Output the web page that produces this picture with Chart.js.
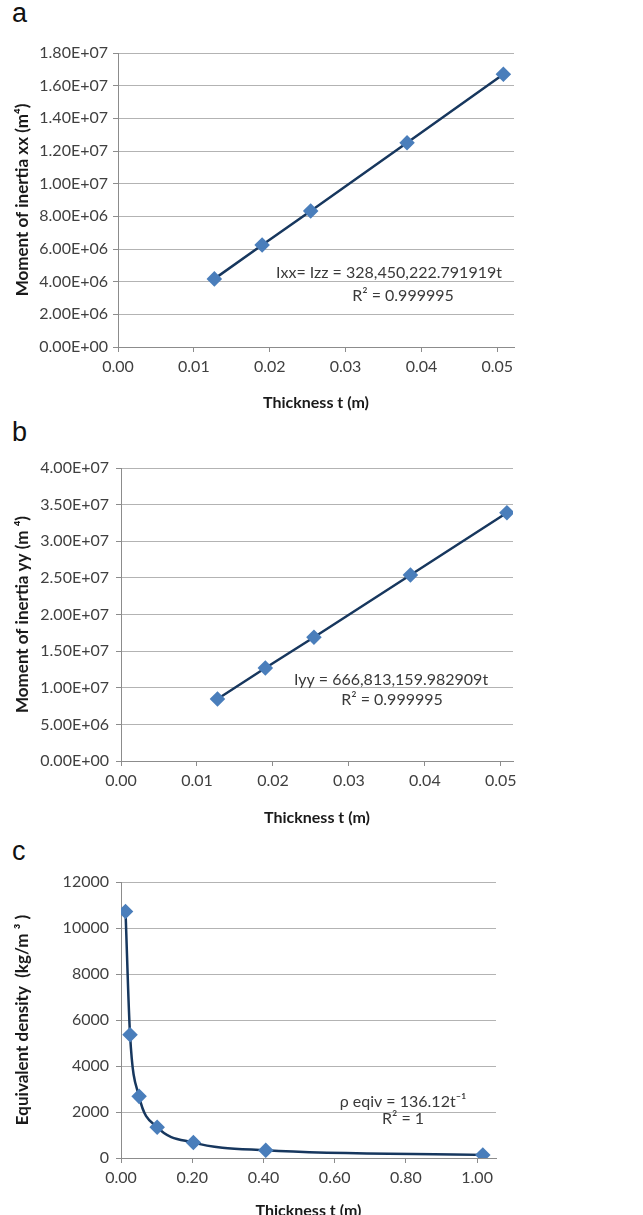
<!DOCTYPE html>
<html>
<head>
<meta charset="utf-8">
<script src="https://cdn.jsdelivr.net/npm/chart.js@4"></script>
<style>
  body { margin: 0; width: 643px; height: 1215px; overflow: hidden; background: #fff; position: relative; }
  canvas { position: absolute; left: 0; }
  .lbl { position: absolute; left: 12px; font-family: "Liberation Sans", Arial, sans-serif; font-size: 27px; color: #111; }
</style>
</head>
<body>
<div class="lbl" style="top:-2px">a</div>
<div class="lbl" style="top:417px">b</div>
<div class="lbl" style="top:836px">c</div>
<canvas id="chartA" width="643" height="420" style="top:0"></canvas>
<canvas id="chartB" width="643" height="420" style="top:420px"></canvas>
<canvas id="chartC" width="643" height="400" style="top:840px"></canvas>
<script>
// thickness (m) vs values
const thickAB = [0.0127, 0.019, 0.0254, 0.0381, 0.0508];
const inertiaXX = [4.17e6, 6.25e6, 8.33e6, 1.25e7, 1.67e7];
const inertiaYY = [8.47e6, 1.27e7, 1.69e7, 2.54e7, 3.39e7];

const thickC = [0.0127, 0.0254, 0.0508, 0.1016, 0.2032, 0.4064, 1.016];
const densityC = [10718, 5359, 2680, 1340, 670, 335, 134];

// tick labels
const xTicksAB = [0, 0.01, 0.02, 0.03, 0.04, 0.05];
const yTicksA = [0, 2e6, 4e6, 6e6, 8e6, 1e7, 1.2e7, 1.4e7, 1.6e7, 1.8e7];
const yTicksB = [0, 5e6, 1e7, 1.5e7, 2e7, 2.5e7, 3e7, 3.5e7, 4e7];
const xTicksC = [0, 0.2, 0.4, 0.6, 0.8, 1.0];
const yTicksC = [0, 2000, 4000, 6000, 8000, 10000, 12000];

const tickFont = { family: "'Lato', sans-serif", size: 16 };
const titleFont = { family: "'Lato', sans-serif", size: 16, weight: 'bold' };
const ytitleFont = { family: "'Lato', sans-serif", size: 17, weight: 'bold' };

function sci(v) {
  if (v === 0) return '0.00E+00';
  let e = Math.floor(Math.log10(Math.abs(v)) + 1e-9);
  let m = v / Math.pow(10, e);
  return m.toFixed(2) + 'E+' + String(e).padStart(2, '0');
}

// draws the trendline text inside the plot
const notePlugin = {
  id: 'note',
  afterDraw(chart, args, opts) {
    const ctx = chart.ctx;
    ctx.save();
    ctx.fillStyle = '#3a3a3a';
    ctx.font = "16px 'Lato', sans-serif";
    ctx.textAlign = 'center';
    ctx.textBaseline = 'middle';
    opts.lines.forEach(l => ctx.fillText(l.text, l.x, l.y));
    ctx.restore();
  }
};

function makeChart(id, xs, ys, cfg) {
  const pts = xs.map((x, i) => ({ x: x, y: ys[i] }));
  return new Chart(document.getElementById(id), {
    type: 'scatter',
    data: {
      datasets: [{
        data: pts,
        showLine: true,
        borderColor: '#17375e',
        borderWidth: 2.5,
        cubicInterpolationMode: cfg.smooth ? 'monotone' : 'default',
        pointStyle: 'rectRot',
        pointRadius: 6,
        pointHoverRadius: 6,
        pointBackgroundColor: '#4a7ebb',
        pointBorderColor: '#4a7ebb'
      }]
    },
    options: {
      responsive: false,
      animation: false,
      events: [],
      layout: { padding: cfg.padding },
      plugins: {
        legend: { display: false },
        tooltip: { enabled: false },
        note: { lines: cfg.notes }
      },
      scales: {
        x: {
          type: 'linear',
          min: 0,
          max: cfg.xMax,
          afterBuildTicks: s => { s.ticks = cfg.xTicks.map(v => ({ value: v })); },
          afterFit: s => { s.height = cfg.xHeight; },
          border: { color: '#8c8c8c', width: 1 },
          grid: { drawOnChartArea: false, color: '#8c8c8c', tickLength: 5 },
          ticks: { font: tickFont, color: '#404040', padding: 5, maxRotation: 0,
                   callback: v => v.toFixed(2) },
          title: { display: true, text: 'Thickness t (m)', font: titleFont, color: '#1a1a1a',
                   padding: { top: 4, bottom: cfg.xTitlePad } }
        },
        y: {
          type: 'linear',
          min: 0,
          max: cfg.yTicks[cfg.yTicks.length - 1],
          afterBuildTicks: s => { s.ticks = cfg.yTicks.map(v => ({ value: v })); },
          afterFit: s => { s.width = cfg.yWidth; },
          border: { color: '#8c8c8c', width: 1 },
          grid: { color: '#b3b3b3', tickLength: 5, tickColor: '#8c8c8c' },
          ticks: { font: tickFont, color: '#404040', padding: cfg.yPad, callback: cfg.yFmt },
          title: { display: true, text: cfg.yTitle, font: ytitleFont, color: '#1a1a1a',
                   padding: { top: 12, bottom: 0 } }
        }
      }
    },
    plugins: [notePlugin]
  });
}

makeChart('chartA', thickAB, inertiaXX, {
  xMax: 0.0522, xTicks: xTicksAB, yTicks: yTicksA, yFmt: sci,
  padding: { top: 53, right: 129, bottom: 0, left: 0 },
  yWidth: 118, xHeight: 73, xTitlePad: 8, yPad: 5,
  yTitle: 'Moment of inertia xx (m⁴)',
  notes: [{ text: 'Ixx= Izz = 328,450,222.791919t', x: 389, y: 273 },
          { text: 'R² = 0.999995', x: 403, y: 296 }]
});

makeChart('chartB', thickAB, inertiaYY, {
  xMax: 0.0516, xTicks: xTicksAB, yTicks: yTicksB, yFmt: sci,
  padding: { top: 48, right: 130, bottom: 0, left: 0 },
  yWidth: 121, xHeight: 79, xTitlePad: 13, yPad: 7,
  yTitle: 'Moment of inertia yy (m ⁴)',
  notes: [{ text: 'Iyy = 666,813,159.982909t', x: 391, y: 260 },
          { text: 'R² = 0.999995', x: 392, y: 280 }]
});

makeChart('chartC', thickC, densityC, {
  xMax: 1.053, xTicks: xTicksC, yTicks: yTicksC, yFmt: v => String(v), smooth: true,
  padding: { top: 42, right: 147, bottom: 0, left: 0 },
  yWidth: 121, xHeight: 82, xTitlePad: 20, yPad: 7,
  yTitle: 'Equivalent density  (kg/m ³ )',
  notes: [{ text: 'ρ eqiv = 136.12t⁻¹', x: 403, y: 262 },
          { text: 'R² = 1', x: 403, y: 279 }]
});
</script>
</body>
</html>
